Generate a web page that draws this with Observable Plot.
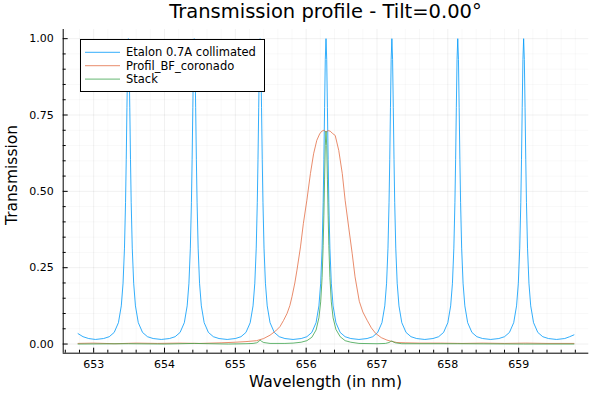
<!DOCTYPE html>
<html><head><meta charset="utf-8">
<script src="https://cdn.jsdelivr.net/npm/d3@7"></script>
<script src="https://cdn.jsdelivr.net/npm/@observablehq/plot@0.6"></script>
<style>html,body{margin:0;padding:0;background:#fff;}#chart{width:599px;height:398px;}</style>
</head><body><div id="chart"></div>
<script>
// ---- Data ----
const titleText = "Transmission profile - Tilt=0.00°";
const xLabel = "Wavelength (in nm)";
const yLabel = "Transmission";
const seriesNames = ["Etalon 0.7A collimated", "Profil_BF_coronado", "Stack"];
const seriesColors = ["#009AFA", "#E36F47", "#3EA44E"];

const xMajor = [653, 654, 655, 656, 657, 658, 659];
const xMinor = [652.6, 652.8, 653.2, 653.4, 653.6, 653.8, 654.2, 654.4, 654.6, 654.8,
  655.2, 655.4, 655.6, 655.8, 656.2, 656.4, 656.6, 656.8, 657.2, 657.4, 657.6, 657.8,
  658.2, 658.4, 658.6, 658.8, 659.2, 659.4, 659.6, 659.8];
const yMajor = [0, 0.25, 0.5, 0.75, 1];
const yMinor = [0.05, 0.1, 0.15, 0.2, 0.3, 0.35, 0.4, 0.45, 0.55, 0.6, 0.65, 0.7, 0.8, 0.85, 0.9, 0.95];

// Etalon 0.7A collimated
const etalonWl = [
  652.78, 652.85, 652.93, 653.025,
  653.14, 653.22, 653.29, 653.35, 653.39, 653.415, 653.435, 653.45, 653.46, 653.47, 653.48, 653.49, 653.50, 653.51, 653.52, 653.53, 653.545, 653.565, 653.59, 653.63, 653.69, 653.76, 653.84, 653.955,
  654.07, 654.15, 654.22, 654.28, 654.32, 654.345, 654.365, 654.38, 654.39, 654.40, 654.41, 654.42, 654.43, 654.44, 654.45, 654.46, 654.475, 654.495, 654.52, 654.56, 654.62, 654.69, 654.77, 654.885,
  655.00, 655.08, 655.15, 655.21, 655.25, 655.275, 655.295, 655.31, 655.32, 655.33, 655.34, 655.35, 655.36, 655.37, 655.38, 655.39, 655.405, 655.425, 655.45, 655.49, 655.55, 655.62, 655.70, 655.815,
  655.93, 656.01, 656.08, 656.14, 656.18, 656.205, 656.225, 656.24, 656.25, 656.26, 656.27, 656.28, 656.29, 656.30, 656.31, 656.32, 656.335, 656.355, 656.38, 656.42, 656.48, 656.55, 656.63, 656.745,
  656.86, 656.94, 657.01, 657.07, 657.11, 657.135, 657.155, 657.17, 657.18, 657.19, 657.20, 657.21, 657.22, 657.23, 657.24, 657.25, 657.265, 657.285, 657.31, 657.35, 657.41, 657.48, 657.56, 657.675,
  657.79, 657.87, 657.94, 658.00, 658.04, 658.065, 658.085, 658.10, 658.11, 658.12, 658.13, 658.14, 658.15, 658.16, 658.17, 658.18, 658.195, 658.215, 658.24, 658.28, 658.34, 658.41, 658.49, 658.605,
  658.72, 658.80, 658.87, 658.93, 658.97, 658.995, 659.015, 659.03, 659.04, 659.05, 659.06, 659.07, 659.08, 659.09, 659.10, 659.11, 659.125, 659.145, 659.17, 659.21, 659.27, 659.34, 659.42, 659.535,
  659.65, 659.72, 659.78
];
const etalonT = [
  0.034, 0.024, 0.018, 0.015,
  0.018, 0.024, 0.038, 0.070, 0.125, 0.199, 0.314, 0.463, 0.605, 0.774, 0.932, 1.000, 0.932, 0.774, 0.605, 0.463, 0.314, 0.199, 0.125, 0.070, 0.038, 0.024, 0.018, 0.015,
  0.018, 0.024, 0.038, 0.070, 0.125, 0.199, 0.314, 0.463, 0.605, 0.774, 0.932, 1.000, 0.932, 0.774, 0.605, 0.463, 0.314, 0.199, 0.125, 0.070, 0.038, 0.024, 0.018, 0.015,
  0.018, 0.024, 0.038, 0.070, 0.125, 0.199, 0.314, 0.463, 0.605, 0.774, 0.932, 1.000, 0.932, 0.774, 0.605, 0.463, 0.314, 0.199, 0.125, 0.070, 0.038, 0.024, 0.018, 0.015,
  0.018, 0.024, 0.038, 0.070, 0.125, 0.199, 0.314, 0.463, 0.605, 0.774, 0.932, 1.000, 0.932, 0.774, 0.605, 0.463, 0.314, 0.199, 0.125, 0.070, 0.038, 0.024, 0.018, 0.015,
  0.018, 0.024, 0.038, 0.070, 0.125, 0.199, 0.314, 0.463, 0.605, 0.774, 0.932, 1.000, 0.932, 0.774, 0.605, 0.463, 0.314, 0.199, 0.125, 0.070, 0.038, 0.024, 0.018, 0.015,
  0.018, 0.024, 0.038, 0.070, 0.125, 0.199, 0.314, 0.463, 0.605, 0.774, 0.932, 1.000, 0.932, 0.774, 0.605, 0.463, 0.314, 0.199, 0.125, 0.070, 0.038, 0.024, 0.018, 0.015,
  0.018, 0.024, 0.038, 0.070, 0.125, 0.199, 0.314, 0.463, 0.605, 0.774, 0.932, 1.000, 0.932, 0.774, 0.605, 0.463, 0.314, 0.199, 0.125, 0.070, 0.038, 0.024, 0.018, 0.015,
  0.018, 0.024, 0.030
];

// Profil_BF_coronado
const bfWl = [652.78, 653.0, 653.3, 653.6, 653.9, 654.2, 654.5, 654.8, 655.0, 655.15, 655.30, 655.40, 655.49,
  655.57, 655.63, 655.68, 655.73, 655.77, 655.80, 655.84, 655.87, 655.92, 655.96, 656.01, 656.06, 656.105,
  656.15, 656.19, 656.22, 656.25, 656.28, 656.31, 656.34, 656.37, 656.41, 656.46, 656.51, 656.55, 656.60,
  656.65, 656.69, 656.75, 656.80, 656.86, 656.92, 656.98, 657.06, 657.14, 657.20, 657.28, 657.4, 657.6,
  657.9, 658.2, 658.5, 658.8, 659.1, 659.4, 659.78];
const bfT = [0.002, 0.003, 0.001, 0.003, 0.002, 0.003, 0.002, 0.004, 0.006, 0.008, 0.011, 0.018, 0.029,
  0.043, 0.057, 0.077, 0.100, 0.126, 0.155, 0.200, 0.242, 0.318, 0.394, 0.471, 0.558, 0.623,
  0.667, 0.688, 0.697, 0.700, 0.694, 0.699, 0.697, 0.690, 0.683, 0.634, 0.558, 0.471, 0.383,
  0.296, 0.220, 0.140, 0.105, 0.078, 0.053, 0.035, 0.021, 0.013, 0.009, 0.005, 0.004, 0.003,
  0.003, 0.002, 0.003, 0.002, 0.003, 0.002, 0.002];

// Stack
const stackWl = [652.78, 653.49, 654.0, 654.42, 654.9, 655.15, 655.25, 655.30, 655.33, 655.35, 655.37, 655.40,
  655.49, 655.70, 655.815, 655.93, 656.01, 656.08, 656.14, 656.18, 656.205, 656.225, 656.24, 656.25, 656.26,
  656.27, 656.28, 656.29, 656.30, 656.31, 656.32, 656.335, 656.355, 656.38, 656.42, 656.48, 656.55, 656.63,
  656.745, 657.0, 657.12, 657.17, 657.19, 657.21, 657.23, 657.26, 657.35, 658.14, 659.07, 659.78];
const stackT = [0.000, 0.001, 0.000, 0.002, 0.000, 0.001, 0.002, 0.004, 0.008, 0.013, 0.009, 0.005,
  0.002, 0.002, 0.003, 0.006, 0.011, 0.022, 0.046, 0.086, 0.138, 0.218, 0.323, 0.422, 0.540,
  0.650, 0.697, 0.650, 0.540, 0.422, 0.323, 0.218, 0.138, 0.086, 0.048, 0.024, 0.011, 0.006,
  0.002, 0.001, 0.002, 0.005, 0.008, 0.010, 0.007, 0.004, 0.001, 0.001, 0.000, 0.000];

// ---- Layout ----
const W = 599, H = 398;
const mL = 62.7, mR = 10.7, mT = 29, mB = 45.3;
const frameW = W - mL - mR, frameH = H - mT - mB;
const xDomain = [652.57, 659.99], yDomain = [-0.03, 1.03];
const font = "DejaVu Sans";
const lineOpacity = 0.8;

const toRows = (xs, ys) => xs.map((x, i) => ({x, y: ys[i]}));
const etalon = toRows(etalonWl, etalonT);
const bf = toRows(bfWl, bfT);
const stack = toRows(stackWl, stackT);

const plot = Plot.plot({
  width: W, height: H,
  marginLeft: mL, marginRight: mR, marginTop: mT, marginBottom: mB,
  style: {fontFamily: font, fontSize: "11px", color: "#000", background: "#fff", overflow: "visible"},
  x: {domain: xDomain, label: null},
  y: {domain: yDomain, label: null},
  marks: [
    Plot.gridX(xMinor, {stroke: "#000", strokeOpacity: 0.05, strokeWidth: 0.6}),
    Plot.gridY(yMinor, {stroke: "#000", strokeOpacity: 0.05, strokeWidth: 0.6}),
    Plot.gridX(xMajor, {stroke: "#000", strokeOpacity: 0.1, strokeWidth: 0.6}),
    Plot.gridY(yMajor, {stroke: "#000", strokeOpacity: 0.1, strokeWidth: 0.6}),
    Plot.axisX(xMajor, {tickSize: 0, tickPadding: 7, tickFormat: d => String(d), label: null, fontSize: 11}),
    Plot.axisY(yMajor, {tickSize: 0, tickPadding: 9.5, tickFormat: d3.format(".2f"), label: null, fontSize: 11}),
    Plot.tickX(xMajor, {insetTop: frameH - 5, stroke: "#000"}),
    Plot.tickX(xMinor, {insetTop: frameH - 3, stroke: "#000"}),
    Plot.tickY(yMajor, {insetRight: frameW - 5, stroke: "#000"}),
    Plot.tickY(yMinor, {insetRight: frameW - 3, stroke: "#000"}),
    Plot.ruleX([xDomain[0]], {stroke: "#000"}),
    Plot.ruleY([yDomain[0]], {stroke: "#000"}),
    Plot.line(etalon, {x: "x", y: "y", stroke: seriesColors[0], strokeWidth: 1, strokeOpacity: lineOpacity}),
    Plot.line(bf, {x: "x", y: "y", stroke: seriesColors[1], strokeWidth: 1, strokeOpacity: lineOpacity}),
    Plot.line(stack, {x: "x", y: "y", stroke: seriesColors[2], strokeWidth: 1, strokeOpacity: lineOpacity})
  ]
});
document.getElementById("chart").appendChild(plot);

// ---- Title, axis labels, legend ----
const svg = d3.select(plot);
const cx = mL + frameW / 2;
svg.append("text").attr("x", cx).attr("y", 18).attr("text-anchor", "middle")
  .attr("font-family", font).attr("font-size", 19.5).attr("fill", "#000").text(titleText);
svg.append("text").attr("x", cx).attr("y", 387).attr("text-anchor", "middle")
  .attr("font-family", font).attr("font-size", 15.5).attr("fill", "#000").text(xLabel);
svg.append("text").attr("transform", "translate(16.5,175) rotate(-90)").attr("text-anchor", "middle")
  .attr("font-family", font).attr("font-size", 15.5).attr("fill", "#000").text(yLabel);

const lg = svg.append("g");
lg.append("rect").attr("x", 80.5).attr("y", 39.5).attr("width", 184).attr("height", 52)
  .attr("fill", "#fff").attr("stroke", "#000").attr("stroke-width", 1);
seriesNames.forEach((name, i) => {
  const y = 52.3 + i * 13.4;
  lg.append("line").attr("x1", 85).attr("x2", 120).attr("y1", y).attr("y2", y)
    .attr("stroke", seriesColors[i]).attr("stroke-width", 1).attr("stroke-opacity", lineOpacity);
  lg.append("text").attr("x", 126).attr("y", y).attr("dy", "0.35em").attr("text-anchor", "start")
    .attr("font-family", font).attr("font-size", 11.5).attr("fill", "#000").text(name);
});
</script>
</body></html>
